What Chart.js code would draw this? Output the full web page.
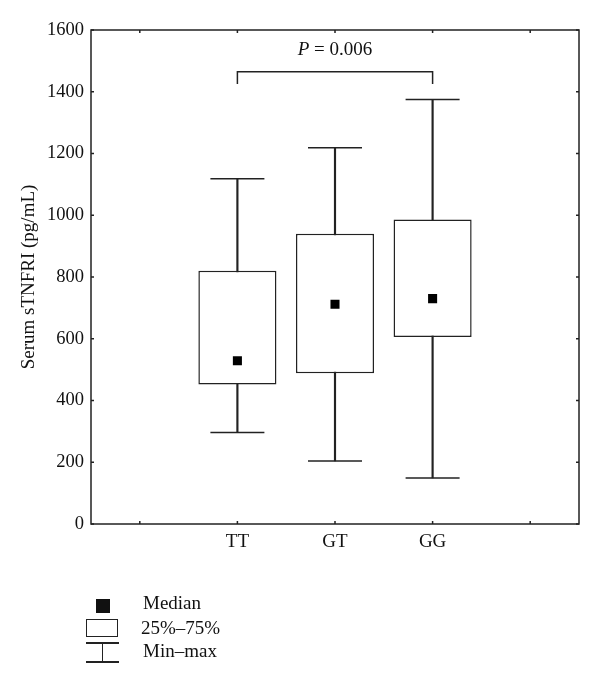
<!DOCTYPE html>
<html>
<head>
<meta charset="utf-8">
<script src="https://cdn.jsdelivr.net/npm/chart.js@4.4.1/dist/chart.umd.min.js"></script>
<style>
  body { margin: 0; background: #fff; }
  #wrap { position: relative; width: 600px; height: 684px; }
  #legend { position: absolute; left: 0; top: 0; font-family: "Liberation Serif", serif; font-size: 19px; color: #111; }
  .lg { position: absolute; white-space: nowrap; line-height: 22px; }
</style>
</head>
<body>
<div id="wrap">
  <canvas id="myChart" width="600" height="684"></canvas>
  <div id="legend">
    <div class="lg" style="left:96px;top:599px;width:14px;height:14px;background:#111;"></div>
    <div class="lg" style="left:143px;top:592px;">Median</div>
    <div class="lg" style="left:86px;top:619px;width:30px;height:16px;border:1.5px solid #222;"></div>
    <div class="lg" style="left:141px;top:617px;">25%–75%</div>
    <div class="lg" style="left:86px;top:642px;width:33px;height:1.5px;background:#222;"></div>
    <div class="lg" style="left:101.5px;top:642px;width:1.5px;height:20px;background:#222;"></div>
    <div class="lg" style="left:86px;top:661px;width:33px;height:1.5px;background:#222;"></div>
    <div class="lg" style="left:143px;top:640px;">Min–max</div>
  </div>
</div>
<script>
// categories (empty slots at both ends give the extra ticks)
let categories = ['', 'TT', 'GT', 'GG', ''];

// values (pg/mL)
let minVals    = [null, 296, 204, 149, null];
let q1Vals     = [null, 452, 488, 606, null];
let medianVals = [null, 529, 712, 730, null];
let q3Vals     = [null, 820, 940, 986, null];
let maxVals    = [null, 1118, 1219, 1375, null];

let yTicks = [0, 200, 400, 600, 800, 1000, 1200, 1400, 1600];

// significance bracket
let bracketFrom = 'TT';
let bracketTo = 'GG';
let bracketTop = 1465;
let bracketBottom = 1425;
let pLabelY = 1535;
let pText = ' = 0.006';

let ink = '#222';
let font = '"Liberation Serif", serif';

let boxData = categories.map((c, i) => q1Vals[i] == null ? null : [q1Vals[i], q3Vals[i]]);
let whiskerData = categories.map((c, i) => minVals[i] == null ? null : [minVals[i], maxVals[i]]);

// frame round the plot with inward ticks on all four sides
const framePlugin = {
    id: 'frame',
    afterDatasetsDraw(chart) {
        const ctx = chart.ctx;
        const a = chart.chartArea;
        const x = chart.scales.x, y = chart.scales.y;
        ctx.save();
        ctx.strokeStyle = ink;
        ctx.lineWidth = 1.5;
        ctx.strokeRect(a.left, a.top, a.right - a.left, a.bottom - a.top);
        ctx.beginPath();
        x.ticks.forEach((t, i) => {
            const px = x.getPixelForTick(i);
            ctx.moveTo(px, a.bottom); ctx.lineTo(px, a.bottom - 3);
            ctx.moveTo(px, a.top); ctx.lineTo(px, a.top + 3);
        });
        y.ticks.forEach((t, i) => {
            const py = y.getPixelForTick(i);
            ctx.moveTo(a.left, py); ctx.lineTo(a.left + 3, py);
            ctx.moveTo(a.right, py); ctx.lineTo(a.right - 3, py);
        });
        ctx.stroke();

        // P label above the bracket
        const cx = (x.getPixelForValue(categories.indexOf(bracketFrom)) + x.getPixelForValue(categories.indexOf(bracketTo))) / 2;
        const cy = y.getPixelForValue(pLabelY);
        ctx.fillStyle = '#111';
        ctx.textBaseline = 'middle';
        ctx.font = 'italic 19px ' + font;
        const wP = ctx.measureText('P').width;
        ctx.font = '19px ' + font;
        const wR = ctx.measureText(pText).width;
        const start = cx - (wP + wR) / 2;
        ctx.font = 'italic 19px ' + font;
        ctx.textAlign = 'left';
        ctx.fillText('P', start, cy);
        ctx.font = '19px ' + font;
        ctx.fillText(pText, start + wP, cy);
        ctx.restore();
    }
};

var ctx = document.getElementById('myChart').getContext('2d');
var myChart = new Chart(ctx, {
    type: 'bar',
    data: {
        labels: categories,
        datasets: [
            {
                // whisker stems, hidden inside the box where they overlap
                type: 'bar',
                data: whiskerData,
                backgroundColor: ink,
                borderWidth: 0,
                barThickness: 1.5,
                grouped: false,
                order: 4
            },
            {
                type: 'bar',
                data: boxData,
                backgroundColor: '#fff',
                borderColor: ink,
                borderWidth: 1.5,
                borderSkipped: false,
                barPercentage: 0.8,
                categoryPercentage: 1,
                grouped: false,
                order: 3
            },
            {
                type: 'line',
                data: minVals,
                showLine: false,
                pointStyle: 'line',
                pointRadius: 27,
                pointBorderColor: ink,
                pointBorderWidth: 1.5,
                order: 2
            },
            {
                type: 'line',
                data: maxVals,
                showLine: false,
                pointStyle: 'line',
                pointRadius: 27,
                pointBorderColor: ink,
                pointBorderWidth: 1.5,
                order: 2
            },
            {
                type: 'line',
                data: medianVals,
                showLine: false,
                pointStyle: 'rect',
                pointRadius: 6.4,
                pointBackgroundColor: '#000',
                pointBorderWidth: 0,
                order: 1
            },
            {
                // bracket
                type: 'line',
                data: [
                    {x: bracketFrom, y: bracketBottom},
                    {x: bracketFrom, y: bracketTop},
                    {x: bracketTo, y: bracketTop},
                    {x: bracketTo, y: bracketBottom}
                ],
                borderColor: ink,
                borderWidth: 1.5,
                pointRadius: 0,
                tension: 0,
                order: 0
            }
        ]
    },
    options: {
        responsive: false,
        animation: false,
        events: [],
        layout: { autoPadding: false, padding: { top: 30, right: 21, left: 0, bottom: 0 } },
        plugins: {
            legend: { display: false },
            tooltip: { enabled: false }
        },
        scales: {
            x: {
                offset: true,
                grid: { display: false, offset: false, drawTicks: false },
                border: { display: false },
                ticks: { color: '#111', font: { family: font, size: 19 }, padding: 7, maxRotation: 0, autoSkip: false },
                afterFit: s => { s.height = 160; }
            },
            y: {
                min: 0,
                max: 1600,
                afterBuildTicks: s => { s.ticks = yTicks.map(v => ({ value: v })); },
                grid: { display: false, drawTicks: false },
                border: { display: false },
                ticks: {
                    color: '#111',
                    font: { family: font, size: 18.5 },
                    padding: 7,
                    callback: v => String(v)
                },
                title: {
                    display: true,
                    text: 'Serum sTNFRI (pg/mL)',
                    color: '#111',
                    font: { family: font, size: 19 },
                    padding: { top: 18, bottom: 0 }
                },
                afterFit: s => { s.width = 91; }
            }
        }
    },
    plugins: [framePlugin]
});
</script>
</body>
</html>
